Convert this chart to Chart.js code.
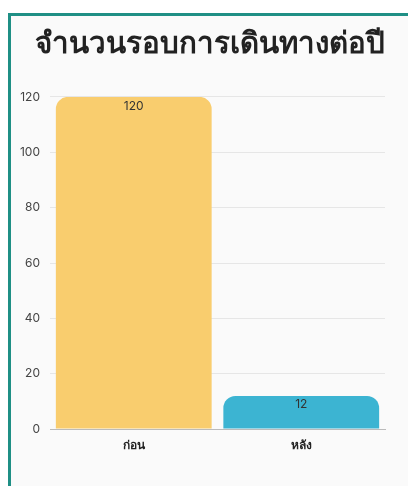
<!DOCTYPE html>
<html>
<head>
<meta charset="utf-8">
<script src="https://cdn.jsdelivr.net/npm/chart.js@4"></script>
<style>
  html, body { margin: 0; padding: 0; background: #ffffff; overflow: hidden; }
  #box {
    position: absolute; left: 8px; top: 13px; width: 420px; height: 500px;
    border-top: 3px solid #1f8f85; border-left: 3px solid #1f8f85;
    background: #fafafa;
  }
  #wrap { position: absolute; left: 0; top: 0; width: 397px; height: 470px; }
</style>
</head>
<body>
<div id="box"><div id="wrap"><canvas id="c"></canvas></div></div>
<script>
const titleText = 'จำนวนรอบการเดินทางต่อปี';
const categories = ['ก่อน', 'หลัง'];
const values = [120, 12];
const barColors = ['#f9cd6e', '#3cb4d2'];
const yTicksMax = 120;
const yTicksStep = 20;

const valueLabels = {
  id: 'valueLabels',
  afterDatasetsDraw(chart) {
    const ctx = chart.ctx;
    const meta = chart.getDatasetMeta(0);
    ctx.save();
    ctx.font = '12px "Inter", "Noto Sans", sans-serif';
    ctx.fillStyle = '#333333';
    ctx.textAlign = 'center';
    ctx.textBaseline = 'middle';
    meta.data.forEach((bar, i) => {
      ctx.fillText(String(values[i]), bar.x, bar.y + 9);
    });
    ctx.restore();
  }
};

new Chart(document.getElementById('c'), {
  type: 'bar',
  data: {
    labels: categories,
    datasets: [{
      data: values,
      backgroundColor: barColors,
      borderRadius: { topLeft: 12, topRight: 12, bottomLeft: 0, bottomRight: 0 },
      borderSkipped: 'bottom',
      barPercentage: 0.93,
      categoryPercentage: 1.0
    }]
  },
  options: {
    responsive: true,
    maintainAspectRatio: false,
    animation: false,
    layout: { padding: { left: 0, right: 0, top: 0, bottom: 32.5 } },
    plugins: {
      legend: { display: false },
      tooltip: { enabled: false },
      title: {
        display: true,
        text: titleText,
        color: '#222222',
        font: { size: 29.5, weight: 'bold', family: '"Noto Sans", sans-serif' },
        padding: { top: 11, bottom: 34.5 }
      }
    },
    scales: {
      x: {
        grid: { display: false },
        border: { display: true, color: '#bbbbbb', width: 1 },
        ticks: { color: '#222222', font: { size: 12, weight: 'bold', family: '"Noto Sans", sans-serif' }, padding: 1 }
      },
      y: {
        min: 0,
        max: yTicksMax,
        afterFit(scale) { scale.width = 39; },
        ticks: { stepSize: yTicksStep, color: '#444444', font: { size: 12, family: '"Inter", "Noto Sans", sans-serif' }, padding: 10 },
        grid: { color: '#e6e6e6', drawTicks: false },
        border: { display: false }
      },
      yRight: {
        position: 'right',
        display: true,
        min: 0,
        max: yTicksMax,
        afterFit(scale) { scale.width = 23; },
        ticks: { display: false },
        grid: { display: false, drawTicks: false },
        border: { display: false }
      }
    }
  },
  plugins: [valueLabels]
});
</script>
</body>
</html>
